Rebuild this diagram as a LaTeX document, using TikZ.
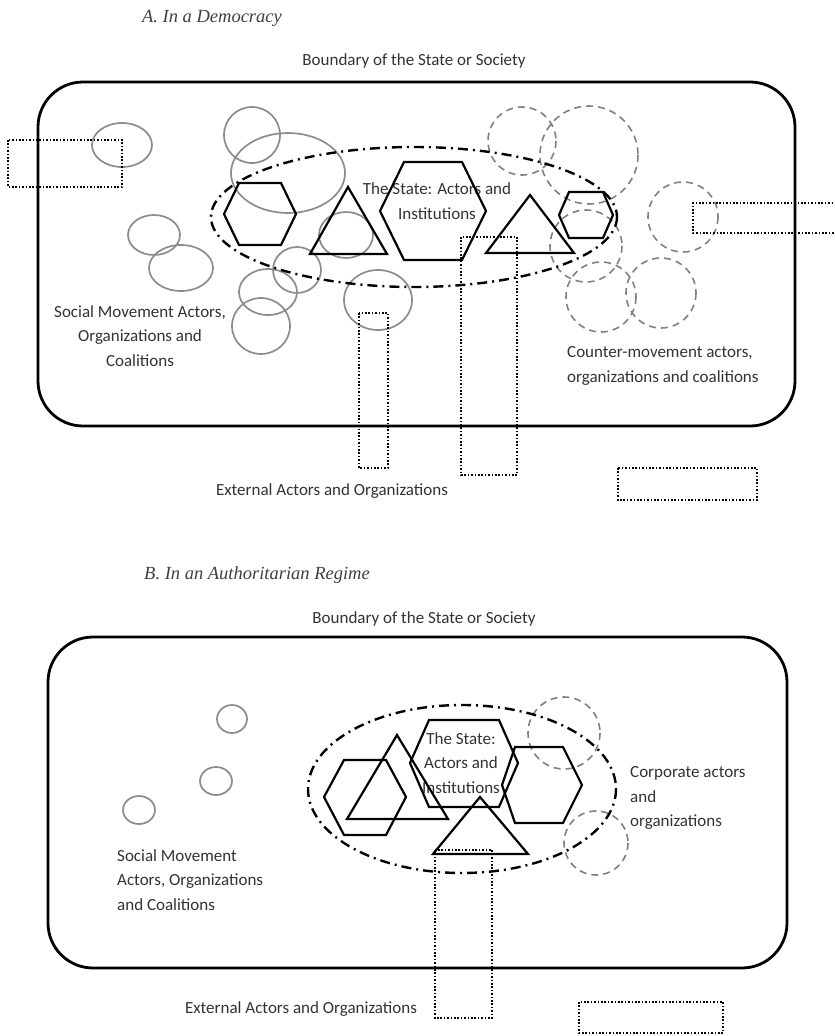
\documentclass[tikz,border=0pt]{standalone}
\usepackage{fontspec}
\setmainfont{Carlito}
\newfontfamily\titlefont{Liberation Serif}
\begin{document}
\tikzset{
 frame/.style={line width=2.8pt, rounded corners=45pt},
 stateell/.style={line width=2.4pt, dash pattern=on 10pt off 5pt on 2pt off 5pt},
 solidshape/.style={line width=2.2pt, line join=miter},
 smcirc/.style={line width=1.7pt, draw=black!45},
 cmcirc/.style={line width=1.6pt, draw=black!50, dash pattern=on 7pt off 5pt},
 extbox/.style={line width=2pt, dash pattern=on 1.6pt off 1.8pt},
 lbl/.style={font=\fontsize{17}{24.5}\selectfont, text=black!80, inner sep=0pt},
 ttl/.style={font=\titlefont\itshape\fontsize{18.5}{22}\selectfont, text=black!75, inner sep=0pt},
}
\begin{tikzpicture}[x=1pt,y=-1pt]
\useasboundingbox (0,0) rectangle (835,1036);
\clip (0,0) rectangle (835,1036);
\fill[white] (0,0) rectangle (835,1036);

% ================= Panel A =================
\node[ttl] (titleA) at (212,18) {A. In a Democracy};
\node[lbl] (boundA) at (414,61) {Boundary of the State or Society};
\draw[frame] (38,82) rectangle (795,426);

% social movement circles (gray, solid)
\draw[smcirc] (122,145) ellipse [x radius=30, y radius=22];
\draw[smcirc] (252,135) circle [radius=28];
\draw[smcirc] (288,173) ellipse [x radius=57, y radius=40];
\draw[smcirc] (154,235) ellipse [x radius=26, y radius=20];
\draw[smcirc] (181,268) ellipse [x radius=32, y radius=23];
\draw[smcirc] (297,270) ellipse [x radius=24, y radius=23];
\draw[smcirc] (268,292) ellipse [x radius=29, y radius=23];
\draw[smcirc] (261,326) ellipse [x radius=29, y radius=28];
\draw[smcirc] (378,300) ellipse [x radius=34, y radius=30];
\draw[smcirc] (346,235) ellipse [x radius=27, y radius=23];

% counter-movement circles (gray, dashed)
\draw[cmcirc] (522,141) circle [radius=34];
\draw[cmcirc] (589,155) circle [radius=49];
\draw[cmcirc] (586,246) circle [radius=36];
\draw[cmcirc] (601,297) circle [radius=35];
\draw[cmcirc] (661,293) circle [radius=35];
\draw[cmcirc] (683,217) circle [radius=35];

% the state
\node[lbl, align=center] (stateA) at (437,201) {The State: Actors and\\Institutions};
\draw[stateell] (414,217) ellipse [x radius=203, y radius=70];
\draw[solidshape] (224,214) -- (239,183) -- (281,183) -- (296,214) -- (281,245) -- (239,245) -- cycle;
\draw[solidshape] (380,211) -- (404,162) -- (462,162) -- (486,211) -- (462,260) -- (404,260) -- cycle;
\draw[solidshape] (559,215) -- (569,192) -- (603,192) -- (613,215) -- (603,238) -- (569,238) -- cycle;
\draw[solidshape] (348,187) -- (310,254) -- (387,254) -- cycle;
\draw[solidshape] (530,195) -- (486,253) -- (574,253) -- cycle;

% external actors (dotted)
\draw[extbox] (8,140) rectangle (122,187);
\draw[extbox] (840,203) -- (693,203) -- (693,233) -- (840,233);
\draw[extbox] (359,313) rectangle (388,468);
\draw[extbox] (461,237) rectangle (517,475);
\draw[extbox] (618,468) rectangle (757,500);

\node[lbl, align=center] (smA) at (140,336) {Social Movement Actors,\\Organizations and\\Coalitions};
\node[lbl, align=left, anchor=west] (cmA) at (567,366) {Counter-movement actors,\\organizations and coalitions};
\node[lbl] (extA) at (332,491) {External Actors and Organizations};

% ================= Panel B =================
\node[ttl] (titleB) at (257,575) {B. In an Authoritarian Regime};
\node[lbl] (boundB) at (424,619) {Boundary of the State or Society};
\draw[frame] (48,637) rectangle (787,968);

\draw[smcirc] (232,719) ellipse [x radius=15, y radius=14];
\draw[smcirc] (216,781) ellipse [x radius=16, y radius=14];
\draw[smcirc] (139,810) ellipse [x radius=16, y radius=14];

\draw[cmcirc] (564,733) circle [radius=36];
\draw[cmcirc] (596,843) circle [radius=32];

\node[lbl, align=center] (stateB) at (461,763) {The State:\\Actors and\\Institutions};
\draw[stateell] (462,789) ellipse [x radius=154, y radius=84];
\draw[solidshape] (324,797) -- (344,760) -- (386,760) -- (406,797) -- (386,835) -- (344,835) -- cycle;
\draw[solidshape] (410,763) -- (429,720) -- (499,720) -- (518,763) -- (499,807) -- (429,807) -- cycle;
\draw[solidshape] (502,785) -- (515,747) -- (563,747) -- (582,785) -- (563,823) -- (515,823) -- cycle;
\draw[solidshape] (397,735) -- (347,819) -- (448,819) -- cycle;
\draw[solidshape] (480,797) -- (433,854) -- (528,854) -- cycle;

\draw[extbox] (435,850) rectangle (492,1018);
\draw[extbox] (579,1002) rectangle (723,1033);

\node[lbl, align=left, anchor=west] (smB) at (117,880) {Social Movement\\Actors, Organizations\\and Coalitions};
\node[lbl, align=left, anchor=west] (corpB) at (630,798) {Corporate actors\\and\\organizations};
\node[lbl] (extB) at (301,1009) {External Actors and Organizations};
\end{tikzpicture}
\end{document}
